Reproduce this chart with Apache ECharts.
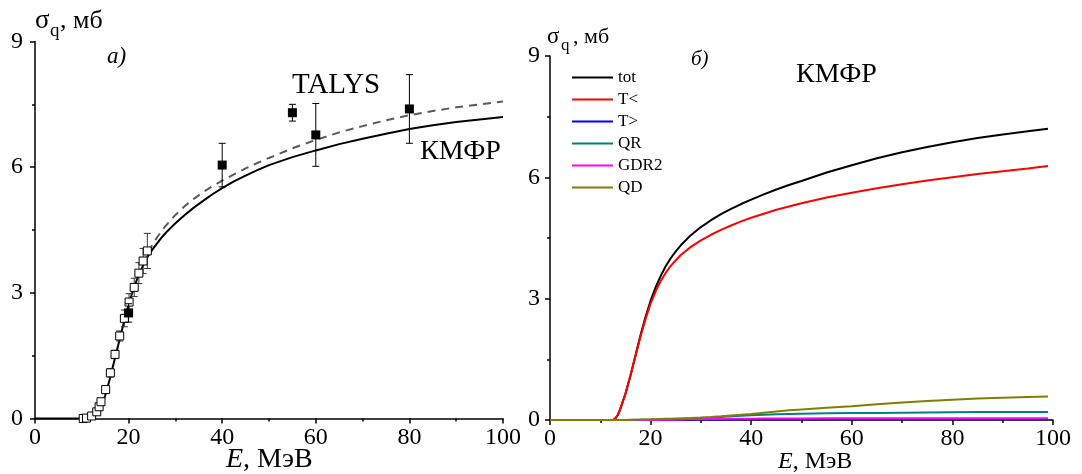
<!DOCTYPE html>
<html>
<head>
<meta charset="utf-8">
<script src="https://cdn.jsdelivr.net/npm/echarts@6/dist/echarts.min.js"></script>
<style>
html,body{margin:0;padding:0;background:#fff;}
#chart{width:1082px;height:474px;}
</style>
</head>
<body>
<div id="chart"></div>
<script>
// ---------- Panel a) ----------
const energyKMFR = [0, 10, 11, 12, 13, 14, 15, 16, 17, 18, 19, 20, 21, 22, 23, 24, 25, 26, 27, 28, 29, 30, 32, 34, 36, 38, 40, 42.5, 45, 47.5, 50, 55, 60, 65, 70, 75, 80, 85, 90, 95, 100];
const sigmaKMFR  = [0, 0, 0.01, 0.03, 0.08, 0.22, 0.55, 0.95, 1.4, 1.85, 2.3, 2.72, 3.08, 3.38, 3.63, 3.85, 4.02, 4.17, 4.31, 4.44, 4.55, 4.66, 4.86, 5.04, 5.2, 5.36, 5.5, 5.66, 5.8, 5.93, 6.05, 6.24, 6.4, 6.55, 6.68, 6.8, 6.91, 7.0, 7.08, 7.14, 7.2];

const energyTALYS = [20, 21, 22, 23, 24, 25, 26, 27, 28, 30, 32, 34, 36, 38, 40, 42.5, 45, 47.5, 50, 55, 60, 65, 70, 75, 80, 85, 90, 95, 100];
const sigmaTALYS  = [2.72, 3.08, 3.4, 3.67, 3.92, 4.13, 4.31, 4.47, 4.61, 4.86, 5.07, 5.25, 5.41, 5.55, 5.68, 5.83, 5.97, 6.1, 6.22, 6.45, 6.65, 6.83, 6.98, 7.12, 7.24, 7.34, 7.43, 7.5, 7.57];

const energyOpen = [10.3, 11.0, 12.1, 13.2, 13.7, 14.1, 15.1, 16.1, 17.1, 18.1, 19.1, 20.1, 21.2, 22.2, 23.1, 24.0];
const sigmaOpen  = [0, 0.01, 0.06, 0.16, 0.28, 0.4, 0.69, 1.09, 1.53, 1.97, 2.39, 2.78, 3.13, 3.47, 3.76, 4.0];
const errOpen    = [0.02, 0.02, 0.03, 0.05, 0.05, 0.06, 0.08, 0.1, 0.1, 0.12, 0.2, 0.2, 0.22, 0.25, 0.3, 0.42];

const energyFilled = [20, 40, 55, 60, 80];
const sigmaFilled  = [2.52, 6.05, 7.30, 6.77, 7.39];
const errFilled    = [0.22, 0.52, 0.2, 0.75, 0.82];

// ---------- Panel б) ----------
const energyR    = [0, 10, 12, 12.5, 13, 13.5, 14, 15, 16, 17, 18, 19, 20, 21, 22, 23, 24, 25, 26, 28, 30, 32, 34, 36, 38, 40, 42.5, 45, 47.5, 50, 55, 60, 65, 70, 75, 80, 85, 90, 95, 99];
const sigmaTot   = [0, 0, 0, 0, 0.04, 0.13, 0.28, 0.65, 1.1, 1.6, 2.1, 2.55, 2.95, 3.28, 3.56, 3.8, 4.0, 4.17, 4.32, 4.57, 4.77, 4.94, 5.09, 5.22, 5.34, 5.45, 5.58, 5.7, 5.81, 5.91, 6.12, 6.3, 6.47, 6.62, 6.75, 6.87, 6.97, 7.06, 7.14, 7.2];
const sigmaTless = [0, 0, 0, 0, 0.04, 0.13, 0.28, 0.65, 1.1, 1.58, 2.07, 2.5, 2.88, 3.18, 3.43, 3.64, 3.81, 3.95, 4.08, 4.28, 4.44, 4.58, 4.7, 4.81, 4.91, 5.0, 5.1, 5.2, 5.28, 5.36, 5.5, 5.62, 5.73, 5.83, 5.92, 6.0, 6.08, 6.15, 6.22, 6.28];
const sigmaTgt   = [0, 0, 0, 0, 0, 0, 0, 0, 0, 0, 0, 0, 0, 0.001, 0.002, 0.003, 0.004, 0.005, 0.006, 0.008, 0.01, 0.012, 0.014, 0.016, 0.018, 0.02, 0.02, 0.02, 0.02, 0.02, 0.02, 0.02, 0.02, 0.02, 0.02, 0.02, 0.02, 0.02, 0.02, 0.02];
const sigmaQR    = [0, 0, 0, 0, 0, 0, 0, 0, 0.002, 0.004, 0.006, 0.008, 0.01, 0.012, 0.015, 0.018, 0.021, 0.025, 0.03, 0.04, 0.05, 0.062, 0.075, 0.09, 0.105, 0.12, 0.13, 0.14, 0.15, 0.155, 0.165, 0.17, 0.175, 0.18, 0.185, 0.19, 0.195, 0.198, 0.2, 0.2];
const sigmaGDR2  = [0, 0, 0, 0, 0, 0, 0, 0, 0, 0, 0, 0, 0, 0.002, 0.004, 0.006, 0.008, 0.01, 0.012, 0.016, 0.02, 0.023, 0.026, 0.028, 0.03, 0.032, 0.034, 0.036, 0.038, 0.04, 0.041, 0.042, 0.043, 0.044, 0.044, 0.045, 0.045, 0.045, 0.045, 0.045];
const sigmaQD    = [0, 0, 0, 0, 0, 0, 0, 0, 0.005, 0.008, 0.01, 0.013, 0.016, 0.02, 0.024, 0.028, 0.032, 0.036, 0.04, 0.05, 0.062, 0.075, 0.09, 0.11, 0.13, 0.15, 0.18, 0.21, 0.24, 0.26, 0.3, 0.34, 0.39, 0.43, 0.47, 0.5, 0.53, 0.55, 0.57, 0.58];

const xTicks = [0, 20, 40, 60, 80, 100];
const yTicks = [0, 3, 6, 9];
const legendNames = ['tot', 'T<', 'T>', 'QR', 'GDR2', 'QD'];
const legendColors = ['#000000', '#ff0000', '#0000ff', '#008080', '#ff00ff', '#808000'];

const FONT = "'Liberation Serif', 'Times New Roman', serif";

function zip(a, b) { return a.map((v, i) => [v, b[i]]); }
function zip3(a, b, c) { return a.map((v, i) => [v, b[i], c[i]]); }

function errRender(color) {
  return function (params, api) {
    const x = api.value(0), y = api.value(1), e = api.value(2);
    const t = api.coord([x, y + e]);
    const b = api.coord([x, y - e]);
    const h = 3.5;
    const st = { stroke: color, lineWidth: 1 };
    return {
      type: 'group',
      children: [
        { type: 'line', shape: { x1: t[0], y1: t[1], x2: b[0], y2: b[1] }, style: st },
        { type: 'line', shape: { x1: t[0] - h, y1: t[1], x2: t[0] + h, y2: t[1] }, style: st },
        { type: 'line', shape: { x1: b[0] - h, y1: b[1], x2: b[0] + h, y2: b[1] }, style: st }
      ]
    };
  };
}

function xAxis(gridIndex) {
  return {
    gridIndex, type: 'value', min: 0, max: 100, interval: 20,
    axisLine: { show: true, onZero: false, lineStyle: { color: '#000', width: 1.5 } },
    axisTick: { show: true, length: 5, lineStyle: { color: '#000', width: 1.5 } },
    minorTick: { show: true, splitNumber: 2, length: 3, lineStyle: { color: '#000', width: 1.5 } },
    splitLine: { show: false },
    axisLabel: { color: '#000', fontFamily: FONT, fontSize: 24, margin: 7,
      formatter: v => xTicks.includes(v) ? String(v) : '' }
  };
}
function yAxis(gridIndex, margin) {
  return {
    gridIndex, type: 'value', min: 0, max: 9, interval: 3,
    axisLine: { show: true, onZero: false, lineStyle: { color: '#000', width: 1.5 } },
    axisTick: { show: true, length: 5, lineStyle: { color: '#000', width: 1.5 } },
    minorTick: { show: true, splitNumber: 2, length: 3, lineStyle: { color: '#000', width: 1.5 } },
    splitLine: { show: false },
    axisLabel: { color: '#000', fontFamily: FONT, fontSize: 24, margin: margin,
      formatter: v => yTicks.includes(v) ? String(v) : '' }
  };
}

const chart = echarts.init(document.getElementById('chart'), null, { renderer: 'canvas' });

const rightSeries = [sigmaTot, sigmaTless, sigmaTgt, sigmaQR, sigmaGDR2, sigmaQD].map((arr, i) => ({
  name: legendNames[i], type: 'line', xAxisIndex: 1, yAxisIndex: 1,
  data: zip(energyR, arr), showSymbol: false, symbol: 'none', smooth: false,
  lineStyle: { color: legendColors[i], width: 2 }, itemStyle: { color: legendColors[i] },
  z: 2 + i * 0.01, silent: true
}));

const option = {
  animation: false,
  backgroundColor: '#fff',
  grid: [
    { left: 35, top: 41.5, width: 468, height: 377 },
    { left: 550, top: 56, width: 503, height: 364 }
  ],
  xAxis: [xAxis(0), xAxis(1)],
  yAxis: [yAxis(0, 12), yAxis(1, 10)],
  legend: {
    orient: 'vertical', left: 572, top: 69, padding: 0,
    itemWidth: 41, itemHeight: 2, itemGap: 5, icon: 'rect',
    textStyle: { fontFamily: FONT, fontSize: 17, lineHeight: 16, color: '#000' },
    data: legendNames, selectedMode: false
  },
  series: [
    {
      name: 'КМФР', type: 'line', xAxisIndex: 0, yAxisIndex: 0,
      data: zip(energyKMFR, sigmaKMFR), showSymbol: false, symbol: 'none', smooth: false,
      lineStyle: { color: '#000', width: 2 }, z: 3
    },
    {
      name: 'TALYS', type: 'line', xAxisIndex: 0, yAxisIndex: 0,
      data: zip(energyTALYS, sigmaTALYS), showSymbol: false, symbol: 'none', smooth: false,
      lineStyle: { color: '#5a5a5a', width: 2, type: [8, 6] }, z: 2
    },
    {
      type: 'custom', xAxisIndex: 0, yAxisIndex: 0,
      data: zip3(energyOpen, sigmaOpen, errOpen),
      renderItem: errRender('#333'), encode: { x: 0, y: 1 }, z: 4, silent: true
    },
    {
      type: 'scatter', xAxisIndex: 0, yAxisIndex: 0,
      data: zip(energyOpen, sigmaOpen), symbol: 'rect', symbolSize: 8,
      itemStyle: { color: '#fff', borderColor: '#000', borderWidth: 1, opacity: 1 }, z: 5, silent: true
    },
    {
      type: 'custom', xAxisIndex: 0, yAxisIndex: 0,
      data: zip3(energyFilled, sigmaFilled, errFilled),
      renderItem: errRender('#000'), encode: { x: 0, y: 1 }, z: 6, silent: true
    },
    {
      type: 'scatter', xAxisIndex: 0, yAxisIndex: 0,
      data: zip(energyFilled, sigmaFilled), symbol: 'rect', symbolSize: 9,
      itemStyle: { color: '#000', opacity: 1 }, z: 7, silent: true
    },
    ...rightSeries
  ],
  graphic: [
    // Panel a) labels
    { type: 'text', left: 35, top: 7, z: 100, style: { text: 'σ', font: `27px ${FONT}`, fill: '#000' } },
    { type: 'text', left: 50, top: 22, z: 100, style: { text: 'q', font: `19px ${FONT}`, fill: '#000' } },
    { type: 'text', left: 60, top: 8, z: 100, style: { text: ', мб', font: `26px ${FONT}`, fill: '#000' } },
    { type: 'text', left: 107, top: 45, z: 100, style: { text: 'a)', font: `italic 23px ${FONT}`, fill: '#000' } },
    { type: 'text', left: 292, top: 71, z: 100, style: { text: 'TALYS', font: `29px ${FONT}`, fill: '#000' } },
    { type: 'text', left: 420, top: 138, z: 100, style: { text: 'КМФР', font: `28px ${FONT}`, fill: '#000' } },
    { type: 'text', left: 226, top: 446, z: 100, style: {
      text: '{e|E}, МэВ', font: `28px ${FONT}`, fill: '#000',
      rich: { e: { fontStyle: 'italic', fontFamily: FONT, fontSize: 28, fill: '#000' } } } },
    // Panel б) labels
    { type: 'text', left: 547, top: 25, z: 100, style: { text: 'σ', font: `23px ${FONT}`, fill: '#000' } },
    { type: 'text', left: 561, top: 37, z: 100, style: { text: 'q', font: `17px ${FONT}`, fill: '#000' } },
    { type: 'text', left: 573, top: 26, z: 100, style: { text: ', мб', font: `22px ${FONT}`, fill: '#000' } },
    { type: 'text', left: 691, top: 49, z: 100, style: { text: 'б)', font: `italic 21px ${FONT}`, fill: '#000' } },
    { type: 'text', left: 796, top: 61, z: 100, style: { text: 'КМФР', font: `28px ${FONT}`, fill: '#000' } },
    { type: 'text', left: 778, top: 450, z: 100, style: {
      text: '{e|E}, МэВ', font: `24px ${FONT}`, fill: '#000',
      rich: { e: { fontStyle: 'italic', fontFamily: FONT, fontSize: 24, fill: '#000' } } } }
  ]
};

chart.setOption(option);
</script>
</body>
</html>
